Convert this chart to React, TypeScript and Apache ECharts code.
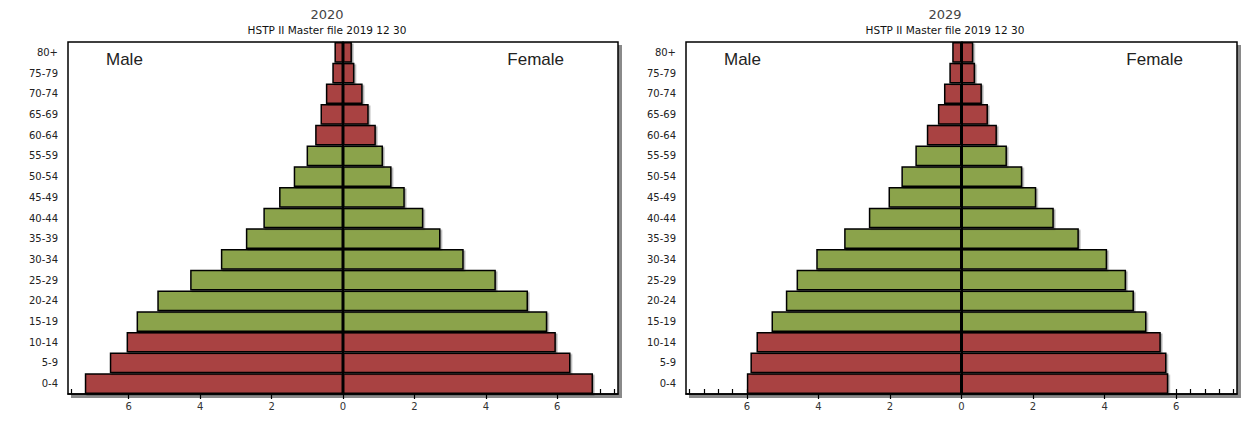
import React, { useEffect, useRef } from "react";
import * as echarts from "echarts";

// Age groups, bottom to top
const ageGroups = [
  "0-4", "5-9", "10-14", "15-19", "20-24", "25-29", "30-34", "35-39",
  "40-44", "45-49", "50-54", "55-59", "60-64", "65-69", "70-74", "75-79", "80+",
];
// Working-age groups drawn in green
const workingAgeGroups = [
  "15-19", "20-24", "25-29", "30-34", "35-39", "40-44", "45-49", "50-54", "55-59",
];

// Percent of population, 2020
const male2020 = [7.23, 6.53, 6.06, 5.78, 5.2, 4.28, 3.42, 2.72, 2.23, 1.79, 1.38, 1.02, 0.78, 0.63, 0.48, 0.3, 0.24];
const female2020 = [7.0, 6.37, 5.96, 5.72, 5.18, 4.28, 3.38, 2.73, 2.25, 1.73, 1.36, 1.12, 0.92, 0.72, 0.55, 0.32, 0.25];

// Percent of population, 2029
const male2029 = [6.0, 5.9, 5.73, 5.31, 4.91, 4.61, 4.06, 3.28, 2.59, 2.04, 1.68, 1.29, 0.97, 0.66, 0.49, 0.34, 0.26];
const female2029 = [5.78, 5.73, 5.57, 5.17, 4.82, 4.6, 4.07, 3.28, 2.58, 2.09, 1.7, 1.27, 0.99, 0.74, 0.57, 0.38, 0.33];

const years = ["2020", "2029"];
const subtitle = "HSTP II Master file 2019 12 30";
const sideLabels = ["Male", "Female"];
const xLabelValues = [-6, -4, -2, 0, 2, 4, 6];

const RED = "#a94343";
const GREEN = "#8ba34b";

const grids = [
  { left: 68, top: 42, width: 550, height: 352 },
  { left: 686, top: 42, width: 551, height: 352 },
];

const minorTicks: number[] = [];
for (let k = -19; k <= 19; k++) minorTicks.push(Math.round(k * 0.4 * 10) / 10);

export default function App() {
  const ref = useRef<HTMLDivElement>(null);
  useEffect(() => {
    document.body.style.margin = "0";
    if (!ref.current) return;
    const chart = echarts.init(ref.current, undefined, { renderer: "svg" });

    const datasets = [
      { male: male2020, female: female2020 },
      { male: male2029, female: female2029 },
    ];
    const colorFor = (k: number) => (workingAgeGroups.includes(ageGroups[k]) ? GREEN : RED);

    const xAxis: any[] = [];
    const yAxis: any[] = [];
    const series: any[] = [];
    const graphic: any[] = [];

    grids.forEach((g, i) => {
      xAxis.push({
        type: "value",
        gridIndex: i,
        min: -7.7,
        max: 7.7,
        position: "bottom",
        splitLine: { show: false },
        axisLine: { show: true, onZero: false, lineStyle: { color: "#000", width: 1.5 } },
        axisTick: { show: true, customValues: xLabelValues, length: 5, inside: false, lineStyle: { color: "#000", width: 1.2 } },
        axisLabel: {
          customValues: xLabelValues,
          formatter: (v: number) => String(Math.abs(v)),
          fontFamily: "DejaVu Sans",
          fontSize: 10,
          color: "#333",
          margin: 7,
        },
      });
      xAxis.push({
        type: "value",
        gridIndex: i,
        min: -7.7,
        max: 7.7,
        position: "bottom",
        splitLine: { show: false },
        axisLine: { show: false },
        axisLabel: { show: false },
        axisTick: { show: true, customValues: minorTicks, inside: true, length: 5, lineStyle: { color: "#000", width: 1.2 } },
      });
      yAxis.push({
        type: "category",
        gridIndex: i,
        data: ageGroups,
        axisLine: { show: true, lineStyle: { color: "#000", width: 1.5 } },
        axisTick: { show: true, inside: true, alignWithLabel: true, length: 5, lineStyle: { color: "#000", width: 1.2 } },
        axisLabel: { fontFamily: "DejaVu Sans", fontSize: 10, color: "#222", margin: 10 },
        splitLine: { show: false },
      });
      const d = datasets[i];
      const common = {
        type: "bar",
        xAxisIndex: 2 * i,
        yAxisIndex: i,
        stack: "pyr" + i,
        barCategoryGap: "0%",
        itemStyle: {
          borderColor: "#000",
          borderWidth: 1.5,
          shadowColor: "rgba(0,0,0,0.35)",
          shadowOffsetX: 1.5,
          shadowOffsetY: 1.5,
          shadowBlur: 0,
        },
      };
      series.push({
        ...common,
        name: "Male " + years[i],
        data: d.male.map((v, k) => ({ value: -v, itemStyle: { color: colorFor(k) } })),
      });
      series.push({
        ...common,
        name: "Female " + years[i],
        data: d.female.map((v, k) => ({ value: v, itemStyle: { color: colorFor(k) } })),
        markLine: {
          silent: true,
          symbol: "none",
          label: { show: false },
          lineStyle: { color: "#000", width: 2, type: "solid" },
          data: [{ xAxis: 0 }],
        },
      });

      const cx = g.left + 259;
      graphic.push({
        type: "text",
        x: cx,
        y: 14,
        style: { text: years[i], font: "13px 'DejaVu Sans'", fill: "#444", align: "center", verticalAlign: "middle" },
      });
      graphic.push({
        type: "text",
        x: cx,
        y: 30,
        style: { text: subtitle, font: "10.5px 'DejaVu Sans'", fill: "#111", align: "center", verticalAlign: "middle" },
      });
      graphic.push({
        type: "text",
        x: g.left + 38,
        y: 59,
        style: { text: sideLabels[0], font: "17px 'Liberation Sans'", fill: "#222", align: "left", verticalAlign: "middle" },
      });
      graphic.push({
        type: "text",
        x: g.left + g.width - 54,
        y: 59,
        style: { text: sideLabels[1], font: "17px 'Liberation Sans'", fill: "#222", align: "right", verticalAlign: "middle" },
      });
      // box shadow
      graphic.push({
        type: "rect",
        z: -10,
        shape: { x: g.left + 3, y: g.top + 3, width: g.width + 1, height: g.height + 1 },
        style: { fill: "#8a8a8a" },
      });
    });

    chart.setOption({
      animation: false,
      backgroundColor: "#fff",
      grid: grids.map((g) => ({
        ...g,
        show: true,
        backgroundColor: "#fff",
        borderColor: "#000",
        borderWidth: 1.5,
        containLabel: false,
      })),
      xAxis,
      yAxis,
      series,
      graphic,
    });
    return () => chart.dispose();
  }, []);
  return <div ref={ref} style={{ width: 1245, height: 423 }} />;
}
